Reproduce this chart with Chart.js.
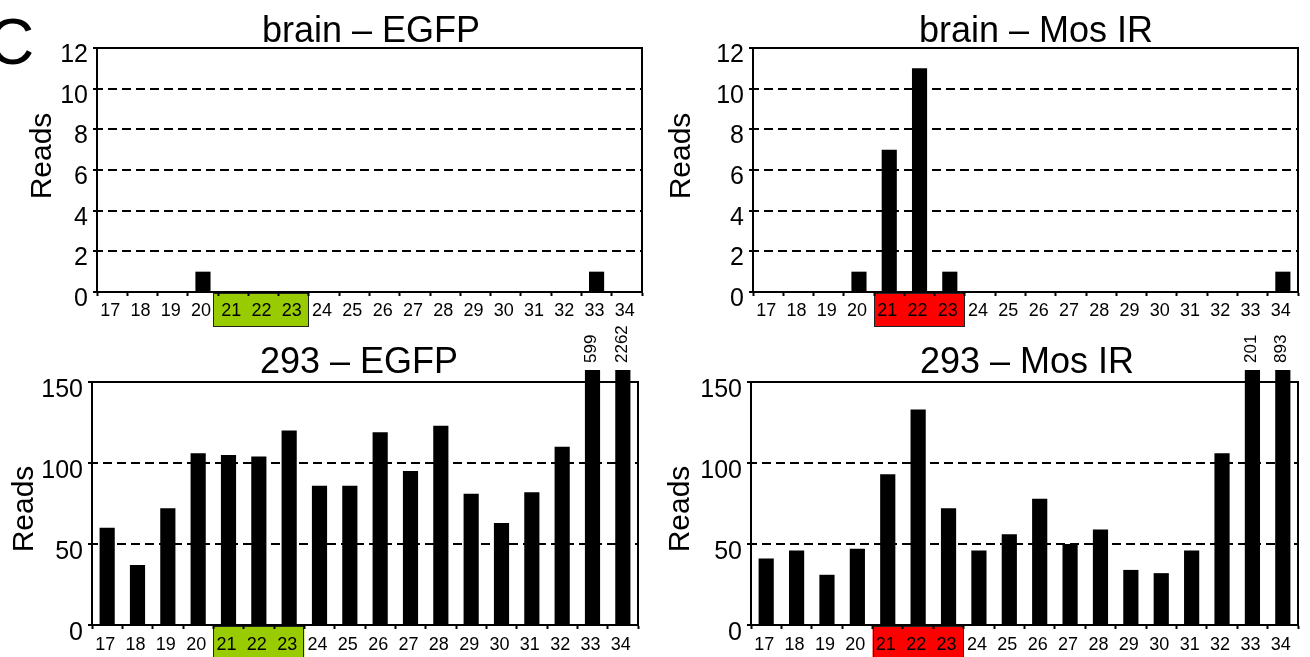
<!DOCTYPE html>
<html><head><meta charset="utf-8">
<script src="https://cdn.jsdelivr.net/npm/chart.js@4.4.1/dist/chart.umd.min.js"></script>
<style>
html,body{margin:0;padding:0;background:#fff;}
body{width:1310px;height:657px;position:relative;overflow:hidden;}
canvas{position:absolute;}
</style></head><body>
<canvas id="c1" width="655" height="330" style="left:0;top:0"></canvas>
<canvas id="c2" width="655" height="330" style="left:655px;top:0"></canvas>
<canvas id="c3" width="655" height="357" style="left:0;top:300px"></canvas>
<canvas id="c4" width="655" height="357" style="left:655px;top:300px"></canvas>
<script>
const FONT = "'Liberation Sans', Arial, Helvetica, sans-serif";

// ---- data ----
const categories = ['17','18','19','20','21','22','23','24','25','26','27','28','29','30','31','32','33','34'];
const brainEGFP  = [0,0,0,1,0,0,0,0,0,0,0,0,0,0,0,0,1,0];
const brainMosIR = [0,0,0,1,7,11,1,0,0,0,0,0,0,0,0,0,0,1];
const egfp293    = [60,37,72,106,105,104,120,86,86,119,95,123,81,63,82,110,599,2262];
const mosIR293   = [41,46,31,47,93,133,72,46,56,78,50,59,34,32,46,106,201,893];
const brainTicks = [0,2,4,6,8,10,12];
const cellTicks  = [0,50,100,150];
const highlightRange = ['21','23'];

const panelPlugin = {
  id: 'panel',
  beforeDraw(chart, args, o) {
    const ctx = chart.ctx, x = chart.scales.x, ca = chart.chartArea;
    const half = x.width / categories.length / 2;
    const i0 = categories.indexOf(highlightRange[0]);
    const i1 = categories.indexOf(highlightRange[1]);
    const left = x.getPixelForTick(i0) - half - o.boxExtraLeft;
    const right = x.getPixelForTick(i1) + half;
    const top = ca.bottom + 1;
    ctx.save();
    ctx.fillStyle = o.boxColor;
    ctx.fillRect(left, top, right - left, 33);
    ctx.strokeStyle = '#222';
    ctx.lineWidth = 1;
    ctx.strokeRect(Math.round(left) + 0.5, Math.round(top) + 0.5, Math.round(right - left) - 1, 33);
    ctx.restore();
  },
  afterDatasetsDraw(chart, args, o) {
    const ctx = chart.ctx, ca = chart.chartArea;
    const max = chart.scales.y.max;
    const meta = chart.getDatasetMeta(0);
    const vals = chart.data.datasets[0].data;
    ctx.save();
    ctx.fillStyle = '#000';
    ctx.font = '17px ' + FONT;
    vals.forEach((v, i) => {
      if (v > max) {
        const el = meta.data[i];
        ctx.save();
        ctx.translate(el.x - 1, ca.top - 19);
        ctx.rotate(-Math.PI / 2);
        ctx.textAlign = 'left';
        ctx.textBaseline = 'middle';
        ctx.fillText(String(v), 0, 0);
        ctx.restore();
      }
    });
    ctx.restore();
  },
  afterDraw(chart, args, o) {
    const ctx = chart.ctx;
    ctx.save();
    ctx.fillStyle = '#000';
    ctx.font = '36px ' + FONT;
    ctx.textAlign = 'center';
    ctx.textBaseline = 'alphabetic';
    ctx.fillText(o.title, o.titleX, o.titleY);
    ctx.save();
    ctx.translate(o.readsX, o.readsY);
    ctx.rotate(-Math.PI / 2);
    ctx.font = '30px ' + FONT;
    ctx.fillText('Reads', 0, 0);
    ctx.restore();
    if (o.letter) {
      ctx.font = '64px ' + FONT;
      ctx.textAlign = 'left';
      ctx.fillText(o.letter, -12, 64);
    }
    ctx.restore();
  }
};

function makeChart(id, values, ticks, cfg) {
  const max = ticks[ticks.length - 1];
  const step = ticks[1] - ticks[0];
  return new Chart(document.getElementById(id), {
    type: 'bar',
    data: {
      labels: categories,
      datasets: [{
        data: values,
        backgroundColor: '#000',
        borderWidth: 0,
        barPercentage: 0.5,
        categoryPercentage: 1,
        clip: {left: 0, top: 12, right: 0, bottom: 0}
      }]
    },
    options: {
      responsive: false,
      animation: false,
      events: [],
      layout: {padding: {left: 0, right: cfg.padRight, top: cfg.padTop, bottom: 0}},
      plugins: {
        legend: {display: false},
        tooltip: {enabled: false},
        title: {display: false},
        panel: cfg.panel
      },
      scales: {
        x: {
          type: 'category', position: 'bottom', offset: true,
          grid: {display: true, drawOnChartArea: false, drawTicks: true, tickLength: 4, tickWidth: 2, tickColor: '#000', offset: true},
          border: {display: true, color: '#000', width: 2},
          ticks: {color: '#000', font: {family: FONT, size: 18}, padding: cfg.xPad, maxRotation: 0, minRotation: 0, autoSkip: false, labelOffset: -2},
          afterFit: s => { s.height = cfg.xHeight; }
        },
        y: {
          type: 'linear', position: 'left', min: 0, max: max,
          grid: {
            color: c => (c.tick && (c.tick.value === 0 || c.tick.value === max)) ? 'rgba(0,0,0,0)' : '#000',
            lineWidth: 2, drawTicks: true, tickLength: 4, tickColor: '#000', tickWidth: 2,
            borderDash: [9, 5], borderDashOffset: 4, tickBorderDash: []
          },
          border: {display: true, color: '#000', width: 2, dash: [9, 5], dashOffset: 4},
          ticks: {stepSize: step, color: '#000', font: {family: FONT, size: 25}, padding: 5, labelOffset: cfg.yLabelOffset},
          afterFit: s => { s.width = cfg.yWidth; }
        },
        x2: {
          type: 'category', position: 'top', offset: true,
          grid: {display: false}, ticks: {display: false},
          border: {display: true, color: '#000', width: 2},
          afterFit: s => { s.height = 0; }
        },
        y2: {
          type: 'linear', position: 'right', min: 0, max: max,
          grid: {display: false}, ticks: {display: false},
          border: {display: true, color: '#000', width: 2},
          afterFit: s => { s.width = 0; }
        }
      }
    },
    plugins: [panelPlugin]
  });
}

makeChart('c1', brainEGFP, brainTicks, {
  padRight: 13, padTop: 48, xHeight: 38, yWidth: 97, xPad: 4, yLabelOffset: 7,
  panel: {title: 'brain – EGFP', titleX: 371, titleY: 42, readsX: 51, readsY: 156, boxColor: '#99cc00', boxExtraLeft: 5, letter: 'C'}
});
makeChart('c2', brainMosIR, brainTicks, {
  padRight: 12, padTop: 48, xHeight: 38, yWidth: 98, xPad: 4, yLabelOffset: 7,
  panel: {title: 'brain – Mos IR', titleX: 1036 - 655, titleY: 42, readsX: 690 - 655, readsY: 156, boxColor: '#ff0000', boxExtraLeft: 0}
});
makeChart('c3', egfp293, cellTicks, {
  padRight: 17, padTop: 82, xHeight: 32, yWidth: 92, xPad: 5, yLabelOffset: 8,
  panel: {title: '293 – EGFP', titleX: 359, titleY: 73, readsX: 33, readsY: 209, boxColor: '#99cc00', boxExtraLeft: 0}
});
makeChart('c4', mosIR293, cellTicks, {
  padRight: 12, padTop: 82, xHeight: 32, yWidth: 96, xPad: 5, yLabelOffset: 8,
  panel: {title: '293 – Mos IR', titleX: 1027 - 655, titleY: 73, readsX: 689 - 655, readsY: 209, boxColor: '#ff0000', boxExtraLeft: 0}
});
</script>
</body></html>
